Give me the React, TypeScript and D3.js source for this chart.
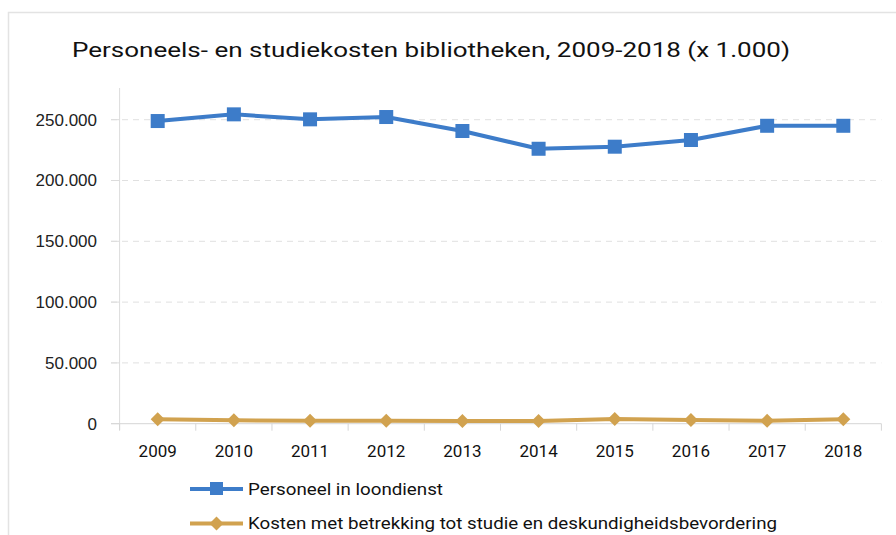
import React from "react";
import * as d3 from "d3";

const years = ["2009", "2010", "2011", "2012", "2013", "2014", "2015", "2016", "2017", "2018"];
const personeel = [248900, 254400, 250300, 252200, 240700, 226100, 227800, 233300, 245000, 245000];
const studiekosten = [3600, 2800, 2500, 2500, 2200, 2200, 3900, 3000, 2400, 3600];
const yTicks = [0, 50000, 100000, 150000, 200000, 250000];
const seriesNames = ["Personeel in loondienst", "Kosten met betrekking tot studie en deskundigheidsbevordering"];

const W = 896, H = 535;
const BLUE = "#3d7cc9";
const GOLD = "#d1a24f";
const DIN = "Roboto, 'Noto Sans', sans-serif";

export default function App() {
  const x = d3.scaleBand().domain(years).range([119.6, 881.4]);
  const y = d3.scaleLinear().domain([0, 275000]).range([423.7, 89.3]);
  const cx = (d: string) => (x(d) as number) + x.bandwidth() / 2;
  const fmt = (v: number) => (v === 0 ? "0" : d3.format(",")(v).replace(/,/g, "."));

  const line = d3.line<number>().x((_, i) => cx(years[i])).y((v) => y(v));
  const boundaries = years.map((d) => x(d) as number).concat([881.4]);

  return (
    <svg width={W} height={H} style={{ position: "absolute", left: 0, top: 0, background: "#fff" }}>
      <rect x={8.5} y={12.5} width={900} height={600} fill="#fff" stroke="#e3e3e3" strokeWidth={1.5} />
      <text x={431} y={56.5} textAnchor="middle" fontFamily={DIN} fontSize={20.5} fill="#111" textLength={718} lengthAdjust="spacingAndGlyphs">
        Personeels- en studiekosten bibliotheken, 2009-2018 (x 1.000)
      </text>

      {yTicks.map((t) => (
        <g key={t}>
          {t > 0 && (
            <line x1={111} x2={881.4} y1={y(t)} y2={y(t)} stroke="#e0e0e0" strokeWidth={1} strokeDasharray="6 5" />
          )}
          <line x1={111} x2={119.6} y1={y(t)} y2={y(t)} stroke="#dcdcdc" />
          <text x={97} y={y(t)} dy="0.35em" textAnchor="end" fontFamily="'Liberation Sans', Arial, sans-serif" fontSize={17} fill="#222">
            {fmt(t)}
          </text>
        </g>
      ))}
      <line x1={119.6} x2={119.6} y1={88} y2={430} stroke="#dcdcdc" />
      <line x1={111} x2={881.4} y1={y(0)} y2={y(0)} stroke="#d6d6d6" />
      {boundaries.map((b, i) => (
        <line key={i} x1={b} x2={b} y1={y(0)} y2={y(0) + 7} stroke="#d6d6d6" />
      ))}
      {years.map((d) => (
        <text key={d} x={cx(d)} y={451} dy="0.35em" textAnchor="middle" fontFamily={DIN} fontSize={17} fill="#111">
          {d}
        </text>
      ))}

      <path d={line(personeel) || ""} fill="none" stroke={BLUE} strokeWidth={4} strokeLinejoin="round" />
      {personeel.map((v, i) => (
        <rect key={i} x={cx(years[i]) - 7} y={y(v) - 7} width={14} height={14} fill={BLUE} />
      ))}
      <path d={line(studiekosten) || ""} fill="none" stroke={GOLD} strokeWidth={4} strokeLinejoin="round" />
      {studiekosten.map((v, i) => (
        <path key={i} d={`M${cx(years[i])},${y(v) - 7}l7,7l-7,7l-7,-7z`} fill={GOLD} />
      ))}

      <g>
        <line x1={190} x2={243} y1={489} y2={489} stroke={BLUE} strokeWidth={4} />
        <rect x={210} y={482} width={13} height={13} fill={BLUE} />
        <text x={248} y={489} dy="0.35em" fontFamily={DIN} fontSize={17} fill="#111" textLength={195} lengthAdjust="spacingAndGlyphs">{seriesNames[0]}</text>
        <line x1={190} x2={243} y1={523.5} y2={523.5} stroke={GOLD} strokeWidth={4} />
        <path d={`M216.5,516.5l7,7l-7,7l-7,-7z`} fill={GOLD} />
        <text x={248} y={523.5} dy="0.35em" fontFamily={DIN} fontSize={17} fill="#111" textLength={529} lengthAdjust="spacingAndGlyphs">{seriesNames[1]}</text>
      </g>
    </svg>
  );
}
